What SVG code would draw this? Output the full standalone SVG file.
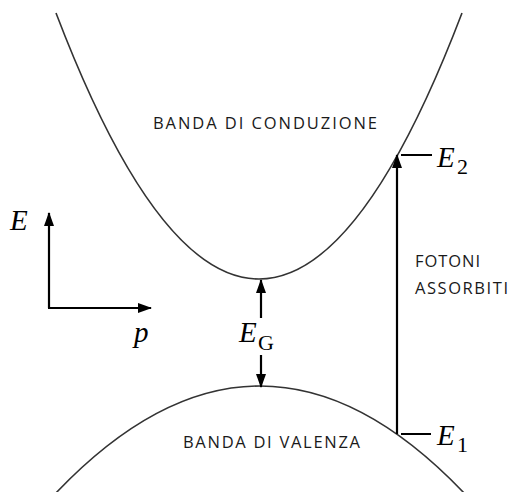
<svg xmlns="http://www.w3.org/2000/svg" width="513" height="492" viewBox="0 0 513 492">
<style>
.curve{fill:none;stroke:#333;stroke-width:1.6}
.arr{fill:none;stroke:#000;stroke-width:2.2}
.tick{fill:none;stroke:#000;stroke-width:2}
.lbl{font-family:"Open Sans","Liberation Sans",sans-serif;font-size:16.5px;fill:#1a1a1a}
.math{font-family:"Liberation Serif","Times New Roman",serif;font-style:italic;font-size:29px;fill:#000}
.sub{font-family:"Liberation Serif","Times New Roman",serif;font-size:22px;fill:#000}
</style>
<defs>
<marker id="ah" markerUnits="userSpaceOnUse" markerWidth="14" markerHeight="10" refX="13" refY="5" orient="auto">
<path d="M0,0 L14,5 L0,10 z" fill="#000"/>
</marker>
</defs>
<g id="conduction-band">
<path class="curve" d="M56,13 Q259,545 462,13"/>
<text class="lbl" x="153" y="129" textLength="224" lengthAdjust="spacing">BANDA DI CONDUZIONE</text>
</g>
<g id="valence-band">
<path class="curve" d="M55,494 Q260,278 465,494"/>
<text class="lbl" x="183" y="448" textLength="177" lengthAdjust="spacing">BANDA DI VALENZA</text>
</g>
<g id="axes">
<text class="math" x="10" y="230">E</text>
<text class="math" x="134" y="342">p</text>
</g>
<g id="gap-label">
<text class="math" x="239" y="342">E</text>
<text class="sub" x="258" y="350">G</text>
</g>
<g id="e2-label">
<text class="math" x="437" y="167">E</text>
<text class="sub" x="457" y="174">2</text>
</g>
<g id="e1-label">
<text class="math" x="437" y="445">E</text>
<text class="sub" x="457" y="452">1</text>
</g>
<g id="photons-label">
<text class="lbl" x="415" y="267" textLength="65" lengthAdjust="spacing">FOTONI</text>
<text class="lbl" x="415" y="294" textLength="93" lengthAdjust="spacing">ASSORBITI</text>
</g>
<g id="connectors">
<line class="arr" x1="49" y1="308" x2="49" y2="213" marker-end="url(#ah)"/>
<line class="arr" x1="48" y1="308" x2="151" y2="308" marker-end="url(#ah)"/>
<line class="arr" x1="261" y1="318" x2="261" y2="280" marker-end="url(#ah)"/>
<line class="arr" x1="261" y1="355" x2="261" y2="387" marker-end="url(#ah)"/>
<line class="arr" x1="397" y1="434" x2="397" y2="155" marker-end="url(#ah)"/>
<line class="tick" x1="401" y1="155" x2="432" y2="155"/>
<line class="tick" x1="401" y1="434" x2="431" y2="434"/>
</g>
</svg>
